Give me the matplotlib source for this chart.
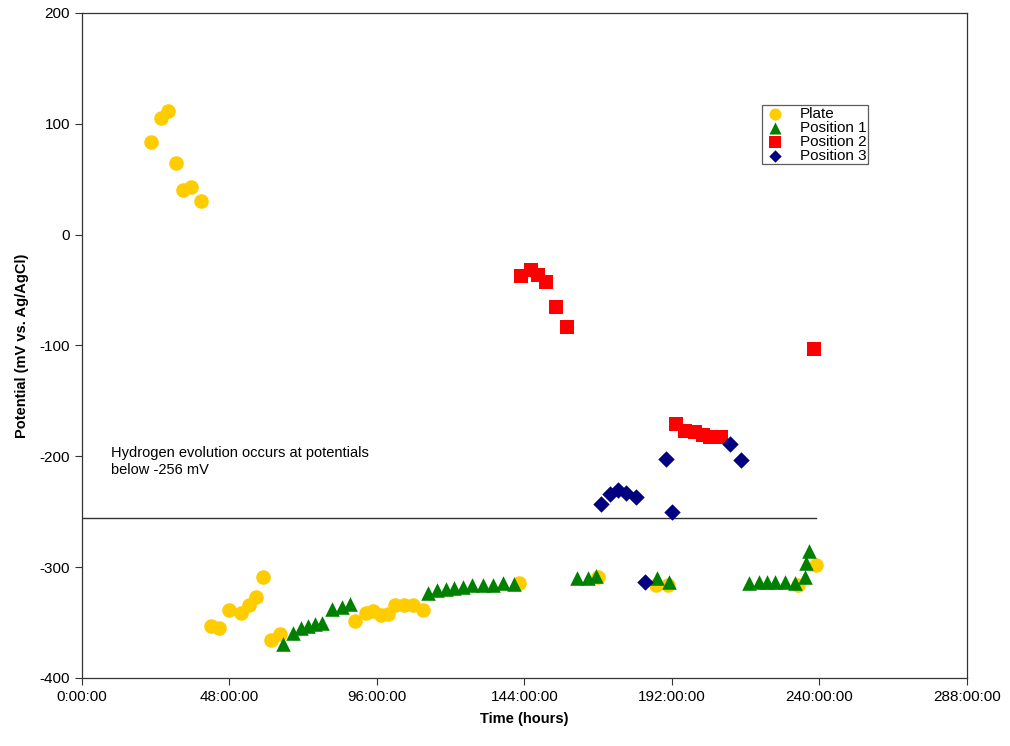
import numpy as np
import matplotlib
matplotlib.use("Agg")
import matplotlib.pyplot as plt

plt.rcParams['font.family'] = ['Liberation Sans', 'DejaVu Sans']
plt.rcParams['axes.unicode_minus'] = False

# Plate
plate_t = [22.4, 25.6, 28.0, 30.5, 32.8, 35.4, 38.6,
           41.9, 44.5, 48.0, 51.9, 54.5, 56.5, 58.8, 61.4, 64.6,
           89.0, 92.5, 94.8, 97.4, 99.7, 102.0, 104.9, 107.8, 111.0, 142.2,
           167.9, 187.0, 190.6, 233.0, 239.0]
plate_v = [84, 105, 112, 65, 40, 43, 30,
           -353, -355, -339, -341, -334, -327, -309, -366, -360,
           -349, -341, -340, -343, -342, -334, -334, -334, -339, -314,
           -309, -316, -316, -316, -298]

# Position 1
p1_t = [65.3, 68.8, 71.4, 73.4, 76.0, 78.2, 81.5, 84.7, 87.3,
        112.7, 115.6, 118.5, 121.1, 124.0, 127.0, 130.5, 133.8, 137.0, 140.6,
        161.0, 164.6, 167.2, 187.3, 191.2,
        217.2, 220.5, 223.0, 225.6, 228.9, 232.1, 235.4, 235.7, 236.7]
p1_v = [-369, -359, -355, -353, -351, -350, -338, -336, -333,
        -323, -321, -320, -319, -318, -316, -316, -316, -314, -315,
        -310, -310, -308, -310, -313,
        -314, -313, -313, -313, -313, -314, -309, -296, -285]

# Position 2
p2_t = [142.9, 146.1, 148.4, 151.0, 154.2, 157.8,
        193.2, 196.4, 199.4, 202.0, 204.5, 208.0, 238.3]
p2_v = [-37, -32, -36, -43, -65, -83,
        -171, -177, -178, -181, -183, -183, -103]

# Position 3
p3_t = [168.8, 171.8, 174.4, 177.0, 180.2, 183.4, 190.0, 192.2, 211.0, 214.6]
p3_v = [-243, -234, -230, -233, -237, -313, -202, -250, -189, -203]

h2_limit = -256
h2_end = 239

xticks = [0, 48, 96, 144, 192, 240, 288]
xtick_labels = ['%d:00:00' % t for t in xticks]

fig = plt.figure(figsize=(10.1, 7.46), dpi=100)
ax = fig.add_axes([0.0812, 0.0912, 0.876, 0.8914])

ax.plot([0, h2_end], [h2_limit, h2_limit], color='#333333', lw=1.0, zorder=1)

ax.scatter(plate_t, plate_v, s=110, marker='o', color='#FFCC00', label='Plate', zorder=2, linewidths=0)
ax.scatter(p1_t, p1_v, s=110, marker='^', color='#008000', label='Position 1', zorder=3, linewidths=0)
ax.scatter(p2_t, p2_v, s=110, marker='s', color='#FF0000', label='Position 2', zorder=4, linewidths=0)
ax.scatter(p3_t, p3_v, s=70, marker='D', color='#000080', label='Position 3', zorder=5, linewidths=0)

ax.text(9.4, -191, 'Hydrogen evolution occurs at potentials\nbelow -256 mV',
        fontsize=10.5, va='top', ha='left', linespacing=1.2)

ax.set_xlim(0, 288)
ax.set_ylim(-400, 200)
ax.set_xticks(xticks)
ax.set_xticklabels(xtick_labels)
ax.set_yticks(np.arange(-400, 201, 100))
ax.tick_params(labelsize=11, direction='out', length=5, width=0.8, color='#333333')
for sp in ax.spines.values():
    sp.set_color('#333333')
    sp.set_linewidth(0.9)

ax.set_xlabel('Time (hours)', fontsize=10.5, fontweight='bold', labelpad=6)
ax.set_ylabel('Potential (mV vs. Ag/AgCl)', fontsize=10.5, fontweight='bold', labelpad=8)

leg = ax.legend(loc='upper left', bbox_to_anchor=(0.754, 0.859), bbox_transform=fig.transFigure,
                fontsize=11, frameon=True, fancybox=False, borderpad=0.1, labelspacing=0.0,
                handletextpad=0.8, handlelength=1.6, borderaxespad=0)
leg.get_frame().set_edgecolor('#333333')
leg.get_frame().set_linewidth(0.9)
for h, sz in zip(leg.legend_handles, [75, 75, 65, 40]):
    h.set_sizes([sz])

fig.savefig('out.png', dpi=100)
